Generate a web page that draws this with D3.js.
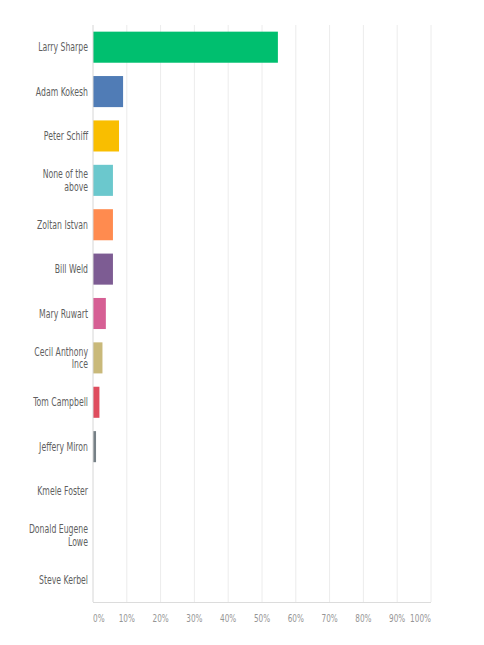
<!DOCTYPE html>
<html><head><meta charset="utf-8">
<script src="https://cdn.jsdelivr.net/npm/d3@7/dist/d3.min.js"></script>
<style>body{margin:0;background:#fff}</style>
</head><body><div id="chart"></div>
<script>
const categories = ["Larry Sharpe","Adam Kokesh","Peter Schiff","None of the above","Zoltan Istvan","Bill Weld","Mary Ruwart","Cecil Anthony Ince","Tom Campbell","Jeffery Miron","Kmele Foster","Donald Eugene Lowe","Steve Kerbel"];
const labelLines = [["Larry Sharpe"],["Adam Kokesh"],["Peter Schiff"],["None of the","above"],["Zoltan Istvan"],["Bill Weld"],["Mary Ruwart"],["Cecil Anthony","Ince"],["Tom Campbell"],["Jeffery Miron"],["Kmele Foster"],["Donald Eugene","Lowe"],["Steve Kerbel"]];
const values = [54.7, 8.9, 7.7, 5.9, 5.9, 5.9, 3.8, 2.8, 1.9, 0.9, 0, 0, 0];
const colors = ["#00bf6f","#507cb6","#f9be00","#6bc8cd","#ff8b4f","#7d5c93","#d65f94","#c9b97a","#df4d5e","#768086","#999","#999","#999"];
const ticks = [0,10,20,30,40,50,60,70,80,90,100];
const tickLabels = ticks.map(t => t + "%");

const W = 484, H = 645;
const m = {left:93, right:53, top:25, bottom:43};
const svg = d3.select("#chart").append("svg").attr("width",W).attr("height",H);
const x = d3.scaleLinear().domain([0,100]).range([m.left, W-m.right]);
const y = d3.scaleBand().domain(categories).range([m.top, H-m.bottom]).paddingInner(0.3).paddingOuter(0.15);

// gridlines
svg.append("g").selectAll("line").data(ticks.slice(1)).join("line")
  .attr("x1",d=>x(d)).attr("x2",d=>x(d)).attr("y1",m.top).attr("y2",H-m.bottom)
  .attr("stroke","#ececec").attr("stroke-width",1);

// bars
svg.append("g").selectAll("rect").data(categories).join("rect")
  .attr("x",x(0)).attr("y",d=>y(d))
  .attr("width",(d,i)=>x(values[i])-x(0)).attr("height",y.bandwidth())
  .attr("fill",(d,i)=>colors[i]);

// frame
svg.append("line").attr("x1",x(0)).attr("x2",x(0)).attr("y1",m.top).attr("y2",H-m.bottom).attr("stroke","#d6d6d6");
svg.append("line").attr("x1",x(0)).attr("x2",x(100)).attr("y1",H-m.bottom+0.5).attr("y2",H-m.bottom+0.5).attr("stroke","#dcdcdc");

// category labels (horizontally condensed)
const font = "'DejaVu Sans Condensed', sans-serif";
const sx = 0.75;
const lg = svg.append("g");
categories.forEach((c,i)=>{
  const lines = labelLines[i];
  const cy = y(c) + y.bandwidth()/2;
  const lh = 12.5;
  const t = lg.append("text").attr("text-anchor","end").attr("font-family",font)
    .attr("font-size",11.5).attr("fill","#5f5f5f")
    .attr("transform",`translate(88,0) scale(${sx},1)`);
  lines.forEach((l,j)=>{
    t.append("tspan").attr("x",0).attr("y", cy + (j-(lines.length-1)/2)*lh).attr("dy","0.35em").text(l);
  });
});

// x tick labels
svg.append("g").selectAll("text").data(ticks).join("text")
  .attr("transform",d=>`translate(${x(d)},618.5) scale(0.74,1)`).attr("dy","0.35em")
  .attr("text-anchor",(d,i)=> i===0 ? "start" : (i===ticks.length-1 ? "end" : "middle"))
  .attr("font-family",font).attr("font-size",11).attr("fill","#959595")
  .text((d,i)=>tickLabels[i]);
</script></body></html>
